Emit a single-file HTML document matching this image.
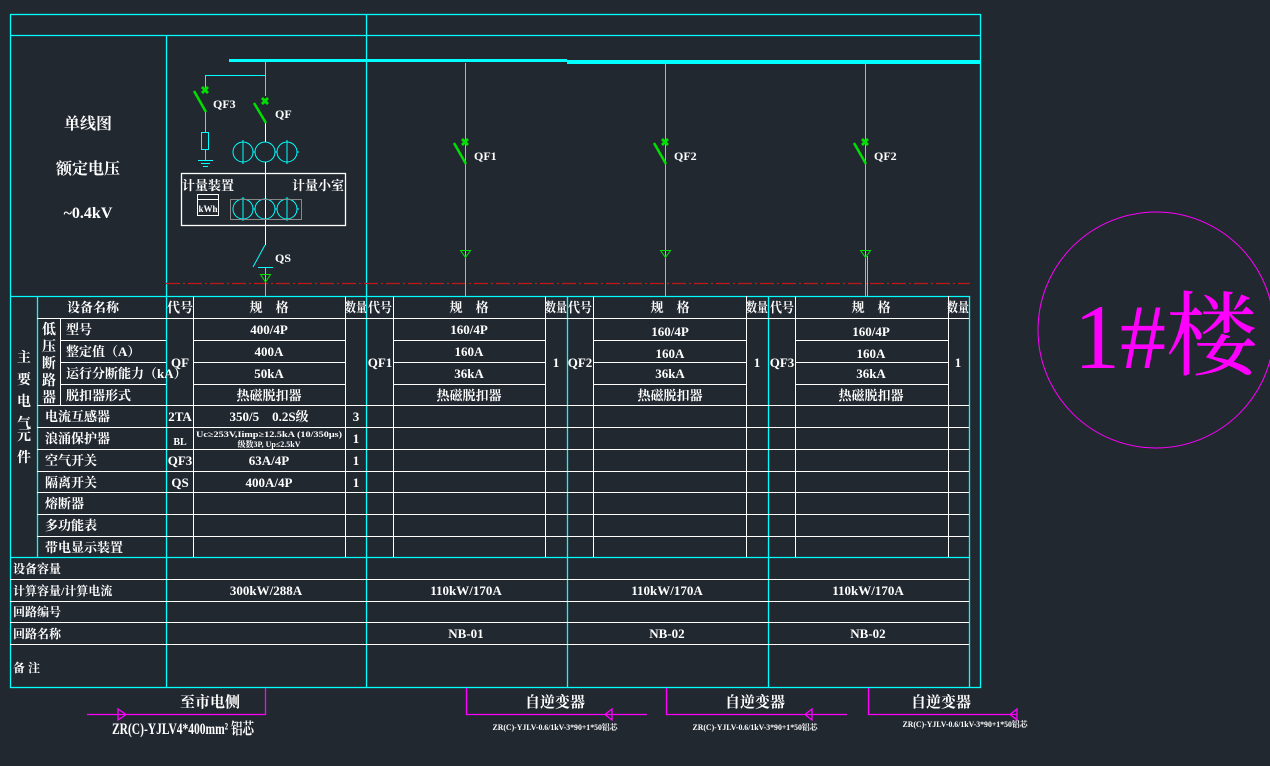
<!DOCTYPE html>
<html><head><meta charset="utf-8"><style>
html,body{margin:0;padding:0;background:#212830;}
svg{display:block}
text{font-family:"Liberation Serif","Noto Serif CJK SC","Noto Sans CJK SC",serif;fill:#fff;font-weight:bold}
</style></head><body>
<svg width="1270" height="766" viewBox="0 0 1270 766" xmlns="http://www.w3.org/2000/svg">
<rect width="1270" height="766" fill="#212830"/>
<g stroke="#00ffff" stroke-width="1.3" fill="none">
<rect x="10.5" y="14.5" width="970" height="673"/>
<line x1="10" y1="35.5" x2="981" y2="35.5"/>
<line x1="366.5" y1="14" x2="366.5" y2="688"/>
<line x1="166.5" y1="35" x2="166.5" y2="296"/>
<line x1="10" y1="296.5" x2="970" y2="296.5"/>
<line x1="37.5" y1="296" x2="37.5" y2="557"/>
<line x1="166.5" y1="296" x2="166.5" y2="688"/>
<line x1="567.5" y1="296" x2="567.5" y2="688"/>
<line x1="768.5" y1="296" x2="768.5" y2="688"/>
<line x1="969.5" y1="296" x2="969.5" y2="688"/>
<line x1="10" y1="557.5" x2="970" y2="557.5"/>
</g>
<rect x="229" y="59" width="338" height="3" fill="#00ffff"/>
<rect x="567" y="60" width="414" height="4" fill="#00ffff"/>
<line x1="166" y1="283.5" x2="970" y2="283.5" stroke="#c01818" stroke-width="1.2" stroke-dasharray="14,3,2,3"/>

<g stroke="#00ffff" stroke-width="1" fill="none">
<line x1="265.5" y1="62" x2="265.5" y2="96"/>
<polyline points="265.5,75.5 205.5,75.5 205.5,90"/>
<line x1="205.5" y1="112" x2="205.5" y2="132"/>
<rect x="201.5" y="132.5" width="7" height="17"/>
<line x1="205.5" y1="150" x2="205.5" y2="160"/>
<line x1="198" y1="160.5" x2="213" y2="160.5"/><line x1="201" y1="163.5" x2="210" y2="163.5"/><line x1="203" y1="166.5" x2="208" y2="166.5"/>
<circle cx="243" cy="152" r="10"/><circle cx="265" cy="152" r="10"/><circle cx="287" cy="152" r="10"/>
<line x1="243" y1="140" x2="243" y2="164"/><line x1="287" y1="140" x2="287" y2="164"/>
<line x1="253" y1="152" x2="255" y2="152"/><line x1="275" y1="152" x2="277" y2="152"/><line x1="297" y1="152" x2="299" y2="152"/>
<circle cx="243" cy="209" r="10"/><circle cx="265" cy="209" r="10"/><circle cx="287" cy="209" r="10"/>
<line x1="243" y1="197" x2="243" y2="221"/><line x1="287" y1="197" x2="287" y2="221"/>
<line x1="253" y1="209" x2="255" y2="209"/><line x1="275" y1="209" x2="277" y2="209"/><line x1="297" y1="209" x2="299" y2="209"/>
<line x1="253" y1="267" x2="265" y2="245"/>
<line x1="465.5" y1="63" x2="465.5" y2="296"/>
<line x1="665.5" y1="63" x2="665.5" y2="296"/>
<line x1="865.5" y1="63" x2="865.5" y2="296"/>
<line x1="867.5" y1="256" x2="867.5" y2="296"/>
</g>
<g stroke="#fff" stroke-width="1" fill="none">
<line x1="265.5" y1="123" x2="265.5" y2="142"/>
<line x1="265.5" y1="162" x2="265.5" y2="245"/>
<rect x="181.5" y="173.5" width="164" height="52" stroke-width="1.3"/>
<rect x="197.5" y="194.5" width="21" height="21"/>
<line x1="197.5" y1="199.5" x2="218.5" y2="199.5"/>
<line x1="265.5" y1="267" x2="265.5" y2="296" stroke="#00ffff"/>
</g>
<rect x="230.5" y="199.5" width="71" height="20" stroke="#888" fill="none"/>
<line x1="258" y1="267.5" x2="273" y2="267.5" stroke="#00ffff"/>
<g stroke="#00e000" stroke-width="2.5" fill="none">
<line x1="194" y1="91" x2="206" y2="112"/>
<line x1="254" y1="103" x2="266" y2="123"/>
<line x1="454" y1="143" x2="466" y2="164"/>
<line x1="654" y1="143" x2="666" y2="164"/>
<line x1="854" y1="143" x2="866" y2="164"/>
</g>
<g>
<text x="205" y="94" style="fill:#00e000;font-size:11px" text-anchor="middle">✖</text>
<text x="265" y="105" style="fill:#00e000;font-size:11px" text-anchor="middle">✖</text>
<text x="465" y="146" style="fill:#00e000;font-size:11px" text-anchor="middle">✖</text>
<text x="665" y="146" style="fill:#00e000;font-size:11px" text-anchor="middle">✖</text>
<text x="865" y="146" style="fill:#00e000;font-size:11px" text-anchor="middle">✖</text>
</g>
<g stroke="#00e000" stroke-width="1" fill="none">
<polygon points="260.5,274.5 270.5,274.5 265.5,282"/>
<polygon points="460.5,250.5 470.5,250.5 465.5,257.5"/>
<polygon points="660.5,250.5 670.5,250.5 665.5,257.5"/>
<polygon points="860.5,250.5 870.5,250.5 865.5,257.5"/>
</g>
<g font-size="12">
<text x="213" y="108">QF3</text>
<text x="275" y="118">QF</text>
<text x="275" y="262">QS</text>
<text x="474" y="160">QF1</text>
<text x="674" y="160">QF2</text>
<text x="874" y="160">QF2</text>
<text x="182" y="190" font-size="13">计量装置</text>
<text x="344" y="190" font-size="13" text-anchor="end">计量小室</text>
<text x="208" y="212" font-size="9" text-anchor="middle">kWh</text>
</g>
<g font-size="16" text-anchor="middle">
<text x="88" y="129">单线图</text>
<text x="88" y="174">额定电压</text>
<text x="88" y="218">~0.4kV</text>
</g>

<g stroke="#fff" stroke-width="1">
<line x1="37" y1="318.5" x2="969" y2="318.5"/>
<line x1="60" y1="340.5" x2="166" y2="340.5"/><line x1="60" y1="362.5" x2="166" y2="362.5"/><line x1="60" y1="384.5" x2="166" y2="384.5"/>
<line x1="193" y1="340.5" x2="345" y2="340.5"/><line x1="193" y1="362.5" x2="345" y2="362.5"/><line x1="193" y1="384.5" x2="345" y2="384.5"/>
<line x1="393" y1="340.5" x2="545" y2="340.5"/><line x1="393" y1="362.5" x2="545" y2="362.5"/><line x1="393" y1="384.5" x2="545" y2="384.5"/>
<line x1="593" y1="340.5" x2="746" y2="340.5"/><line x1="593" y1="362.5" x2="746" y2="362.5"/><line x1="593" y1="384.5" x2="746" y2="384.5"/>
<line x1="795" y1="340.5" x2="948" y2="340.5"/><line x1="795" y1="362.5" x2="948" y2="362.5"/><line x1="795" y1="384.5" x2="948" y2="384.5"/>
<line x1="37" y1="405.5" x2="969" y2="405.5"/>
<line x1="37" y1="427.5" x2="969" y2="427.5"/>
<line x1="37" y1="449.5" x2="969" y2="449.5"/>
<line x1="37" y1="471.5" x2="969" y2="471.5"/>
<line x1="37" y1="492.5" x2="969" y2="492.5"/>
<line x1="37" y1="514.5" x2="969" y2="514.5"/>
<line x1="37" y1="536.5" x2="969" y2="536.5"/>
<line x1="10" y1="579.5" x2="969" y2="579.5"/>
<line x1="10" y1="601.5" x2="969" y2="601.5"/>
<line x1="10" y1="622.5" x2="969" y2="622.5"/>
<line x1="10" y1="644.5" x2="969" y2="644.5"/>
<line x1="60.5" y1="318" x2="60.5" y2="405"/>
<line x1="193.5" y1="296" x2="193.5" y2="557"/>
<line x1="345.5" y1="296" x2="345.5" y2="557"/>
<line x1="393.5" y1="296" x2="393.5" y2="557"/>
<line x1="545.5" y1="296" x2="545.5" y2="557"/>
<line x1="593.5" y1="296" x2="593.5" y2="557"/>
<line x1="746.5" y1="296" x2="746.5" y2="557"/>
<line x1="795.5" y1="296" x2="795.5" y2="557"/>
<line x1="948.5" y1="296" x2="948.5" y2="557"/>
</g>
<g font-size="13">
<text x="67" y="312">设备名称</text>
<text x="180" y="312" text-anchor="middle">代号</text>
<text x="269" y="312" text-anchor="middle">规　格</text>
<text x="356" y="312" text-anchor="middle" textLength="22" lengthAdjust="spacingAndGlyphs">数量</text>
<text x="380" y="312" text-anchor="middle" textLength="24" lengthAdjust="spacingAndGlyphs">代号</text>
<text x="469" y="312" text-anchor="middle">规　格</text>
<text x="556" y="312" text-anchor="middle" textLength="22" lengthAdjust="spacingAndGlyphs">数量</text>
<text x="580" y="312" text-anchor="middle" textLength="24" lengthAdjust="spacingAndGlyphs">代号</text>
<text x="670" y="312" text-anchor="middle">规　格</text>
<text x="757" y="312" text-anchor="middle" textLength="22" lengthAdjust="spacingAndGlyphs">数量</text>
<text x="782" y="312" text-anchor="middle" textLength="24" lengthAdjust="spacingAndGlyphs">代号</text>
<text x="871" y="312" text-anchor="middle">规　格</text>
<text x="958" y="312" text-anchor="middle" textLength="22" lengthAdjust="spacingAndGlyphs">数量</text>
<g font-size="14" text-anchor="middle">
<text x="49" y="334">低</text><text x="49" y="351">压</text><text x="49" y="368">断</text><text x="49" y="385">路</text><text x="49" y="402">器</text>
<text x="24" y="362">主</text><text x="24" y="384">要</text><text x="24" y="406">电</text><text x="24" y="428">气</text><text x="24" y="440">元</text><text x="24" y="462">件</text>
</g>
<text x="66" y="334">型号</text>
<text x="66" y="356">整定值（A）</text>
<text x="66" y="378">运行分断能力（kA）</text>
<text x="66" y="400">脱扣器形式</text>
<text x="45" y="421">电流互感器</text>
<text x="45" y="443">浪涌保护器</text>
<text x="45" y="465">空气开关</text>
<text x="45" y="487">隔离开关</text>
<text x="45" y="508">熔断器</text>
<text x="45" y="530">多功能表</text>
<text x="45" y="552">带电显示装置</text>
<text x="180" y="367" text-anchor="middle">QF</text>
<text x="180" y="421" text-anchor="middle">2TA</text>
<text x="180" y="445" text-anchor="middle" font-size="10">BL</text>
<text x="180" y="465" text-anchor="middle">QF3</text>
<text x="180" y="487" text-anchor="middle">QS</text>
<text x="269" y="334" text-anchor="middle">400/4P</text>
<text x="269" y="356" text-anchor="middle">400A</text>
<text x="269" y="378" text-anchor="middle">50kA</text>
<text x="269" y="400" text-anchor="middle">热磁脱扣器</text>
<text x="269" y="421" text-anchor="middle">350/5　0.2S级</text>
<text x="269" y="437" text-anchor="middle" font-size="8" textLength="146" lengthAdjust="spacingAndGlyphs">Uc≥253V,Iimp≥12.5kA (10/350μs)</text>
<text x="269" y="447" text-anchor="middle" font-size="8">级数3P, Up≤2.5kV</text>
<text x="269" y="465" text-anchor="middle">63A/4P</text>
<text x="269" y="487" text-anchor="middle">400A/4P</text>
<text x="356" y="421" text-anchor="middle">3</text>
<text x="356" y="443" text-anchor="middle">1</text>
<text x="356" y="465" text-anchor="middle">1</text>
<text x="356" y="487" text-anchor="middle">1</text>
<text x="380" y="367" text-anchor="middle">QF1</text>
<text x="469" y="334" text-anchor="middle">160/4P</text>
<text x="469" y="356" text-anchor="middle">160A</text>
<text x="469" y="378" text-anchor="middle">36kA</text>
<text x="469" y="400" text-anchor="middle">热磁脱扣器</text>
<text x="556" y="367" text-anchor="middle">1</text>
<text x="580" y="367" text-anchor="middle">QF2</text>
<text x="670" y="336" text-anchor="middle">160/4P</text>
<text x="670" y="358" text-anchor="middle">160A</text>
<text x="670" y="378" text-anchor="middle">36kA</text>
<text x="670" y="400" text-anchor="middle">热磁脱扣器</text>
<text x="757" y="367" text-anchor="middle">1</text>
<text x="782" y="367" text-anchor="middle">QF3</text>
<text x="871" y="336" text-anchor="middle">160/4P</text>
<text x="871" y="358" text-anchor="middle">160A</text>
<text x="871" y="378" text-anchor="middle">36kA</text>
<text x="871" y="400" text-anchor="middle">热磁脱扣器</text>
<text x="958" y="367" text-anchor="middle">1</text>
</g>
<g font-size="12">
<text x="13" y="573">设备容量</text>
<text x="13" y="595">计算容量/计算电流</text>
<text x="13" y="616">回路编号</text>
<text x="13" y="638">回路名称</text>
<text x="13" y="672">备 注</text>
</g>
<g font-size="13" text-anchor="middle">
<text x="266" y="595">300kW/288A</text>
<text x="466" y="595">110kW/170A</text>
<text x="667" y="595">110kW/170A</text>
<text x="868" y="595">110kW/170A</text>
<text x="466" y="638">NB-01</text>
<text x="667" y="638">NB-02</text>
<text x="868" y="638">NB-02</text>
</g>
<g stroke="#ff00ff" stroke-width="1.3" fill="none">
<polyline points="87,714.5 265.5,714.5 265.5,688"/>
<polygon points="118,709 118,720 126,714.5"/>
<polyline points="466.5,688 466.5,714.5 647,714.5"/>
<polygon points="612,709 612,720 605,714.5"/>
<polyline points="666.5,688 666.5,714.5 847,714.5"/>
<polygon points="812,709 812,720 805,714.5"/>
<polyline points="868.5,688 868.5,714.5 1017,714.5"/>
<polygon points="1017,709 1017,720 1010,714.5"/>
</g>
<g text-anchor="middle">
<text x="210" y="707" font-size="15">至市电侧</text>
<text x="183" y="734" font-size="16" textLength="142" lengthAdjust="spacingAndGlyphs">ZR(C)-YJLV4*400mm² 铝芯</text>
<text x="555" y="707" font-size="15">自逆变器</text>
<text x="555" y="730" font-size="8" textLength="125" lengthAdjust="spacingAndGlyphs">ZR(C)-YJLV-0.6/1kV-3*90+1*50铝芯</text>
<text x="755" y="707" font-size="15">自逆变器</text>
<text x="755" y="730" font-size="8" textLength="125" lengthAdjust="spacingAndGlyphs">ZR(C)-YJLV-0.6/1kV-3*90+1*50铝芯</text>
<text x="941" y="707" font-size="15">自逆变器</text>
<text x="965" y="727" font-size="8" textLength="125" lengthAdjust="spacingAndGlyphs">ZR(C)-YJLV-0.6/1kV-3*90+1*50铝芯</text>
</g>
<circle cx="1156" cy="330" r="118" stroke="#ff00ff" stroke-width="1" fill="none"/>
<text x="1074" y="368" font-size="92" style="fill:#ff00ff;font-weight:normal">1#楼</text>
</svg>
</body></html>
